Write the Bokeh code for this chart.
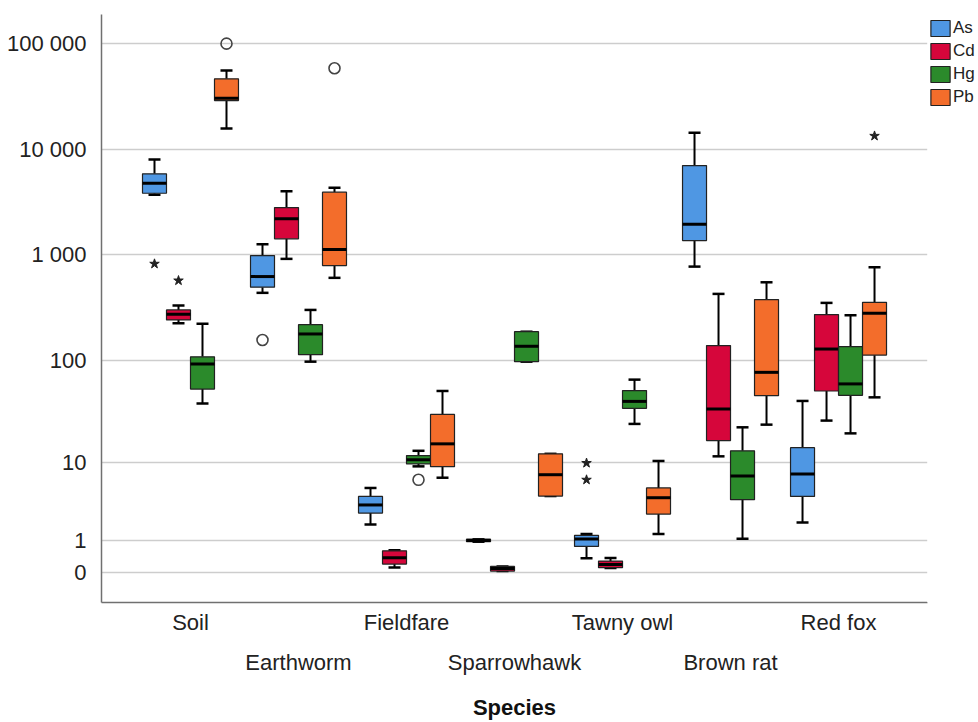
import numpy as np
from bokeh.plotting import figure
from bokeh.models import (Range1d, LinearAxis, FixedTicker, CustomJSTickFormatter,
                          Grid, Legend, LegendItem, ColumnDataSource, BoxAnnotation)
from bokeh.embed import file_html
from bokeh.resources import INLINE

# ---------------- data ----------------
species = ["Soil", "Earthworm", "Fieldfare", "Sparrowhawk", "Tawny owl", "Brown rat", "Red fox"]
metals = ["As", "Cd", "Hg", "Pb"]
colors = ["#4F97E3", "#D6063B", "#2B8A2B", "#F36D2B"]
x_title = "Species"

as_lo = [3690, 437, 1.84, 0.95, 0.36, 774, 1.97]
as_q1 = [3820, 494, 2.64, 0.95, 0.76, 1364, 4.23]
as_med = [4750, 623, 3.34, 1.0, 1.07, 1945, 7.51]
as_q3 = [5830, 984, 4.23, 1.06, 1.24, 6980, 14.1]
as_hi = [7960, 1259, 5.28, 1.06, 1.31, 14220, 40.7]

cd_lo = [225, 916, 0.115, 0.03, 0.10, 11.5, 26.2]
cd_q1 = [242, 1416, 0.20, 0.03, 0.108, 16.6, 50.8]
cd_med = [274, 2190, 0.38, 0.09, 0.19, 34, 128]
cd_q3 = [301, 2800, 0.60, 0.14, 0.28, 138, 272]
cd_hi = [331, 3990, 0.62, 0.14, 0.37, 427, 351]

hg_lo = [38.5, 97, 9.05, 97, 24.3, 1.08, 19.6]
hg_q1 = [53, 113, 9.6, 97, 34.5, 3.87, 46.1]
hg_med = [92, 178, 10.6, 136, 40.3, 7.15, 59.4]
hg_q3 = [108, 218, 11.7, 187, 51.2, 13.1, 135]
hg_hi = [222, 301, 13.1, 187, 65.3, 22.5, 268]

pb_lo = [15600, 606, 6.85, 4.27, 1.31, 23.9, 44.1]
pb_q1 = [28700, 792, 8.98, 4.27, 2.56, 45.8, 112]
pb_med = [30200, 1121, 15.4, 7.38, 4.08, 76.7, 280]
pb_q3 = [46100, 3910, 30.1, 12.2, 5.28, 377, 355]
pb_hi = [55200, 4300, 50.8, 12.2, 10.3, 550, 763]

# outliers (circles) and extremes (stars)
out_species = ["Soil", "Earthworm", "Earthworm", "Fieldfare"]
out_metal = ["Pb", "As", "Pb", "Hg"]
out_value = [99000, 156, 58000, 6.5]

ext_species = ["Soil", "Soil", "Tawny owl", "Tawny owl", "Red fox"]
ext_metal = ["As", "Cd", "As", "As", "Pb"]
ext_value = [822, 571, 9.8, 6.5, 13300]

tick_values = [0, 1, 10, 100, 1000, 10000, 100000]
tick_labels = ["0", "1", "10", "100", "1 000", "10 000", "100 000"]

stats = {
    "As": (as_lo, as_q1, as_med, as_q3, as_hi),
    "Cd": (cd_lo, cd_q1, cd_med, cd_q3, cd_hi),
    "Hg": (hg_lo, hg_q1, hg_med, hg_q3, hg_hi),
    "Pb": (pb_lo, pb_q1, pb_med, pb_q3, pb_hi),
}

def tr(v):
    return np.log10(np.asarray(v, dtype=float) + 1.0)

BW = 0.2222          # box width in category units
X_START, X_END = -0.824, 6.821   # extent of the plotting area proper
FONT = "Liberation Sans"

p = figure(width=978, height=722,
           x_range=Range1d(X_START, 7.296), y_range=Range1d(-0.284, 5.271),
           x_axis_type=None, y_axis_type=None,
           output_backend="svg", toolbar_location=None,
           min_border_left=101, min_border_right=0, min_border_top=14, min_border_bottom=120)
p.outline_line_color = None
p.background_fill_color = "white"
p.border_fill_color = "white"

# y axis
yticker = FixedTicker(ticks=list(tr(tick_values)))
yaxis = LinearAxis(ticker=yticker,
                   formatter=CustomJSTickFormatter(args=dict(labels=tick_labels), code="return labels[index];"))
yaxis.major_tick_line_color = None
yaxis.minor_tick_line_color = None
yaxis.axis_line_color = "#707070"
yaxis.axis_line_width = 1.5
yaxis.major_label_text_font = FONT
yaxis.major_label_text_font_size = "22px"
yaxis.major_label_text_color = "#222222"
yaxis.major_label_standoff = 9
p.add_layout(yaxis, "left")
p.add_layout(Grid(dimension=1, ticker=yticker, grid_line_color="#cdcdcd", grid_line_width=1.5))

# x axes: two staggered rows of category names plus a row for the title
fmt = CustomJSTickFormatter(args=dict(names=species), code="return names[Math.round(tick)];")
xa1 = LinearAxis(ticker=FixedTicker(ticks=[i for i in range(len(species)) if i % 2 == 0]), formatter=fmt)
xa2 = LinearAxis(ticker=FixedTicker(ticks=[i for i in range(len(species)) if i % 2 == 1]), formatter=fmt)
xa3 = LinearAxis(ticker=FixedTicker(ticks=[(len(species) - 1) / 2]),
                 formatter=CustomJSTickFormatter(args=dict(t=x_title), code="return t;"))
for ax in (xa1, xa2, xa3):
    ax.major_tick_line_color = None
    ax.minor_tick_line_color = None
    ax.major_tick_out = 0
    ax.major_tick_in = 0
    ax.major_label_text_font = FONT
    ax.major_label_text_font_size = "22px"
    ax.major_label_text_color = "#222222"
    ax.axis_line_color = None
xa1.axis_line_color = "#707070"
xa1.axis_line_width = 1.5
xa1.bounds = (X_START, X_END)
xa1.major_label_standoff = 7
xa2.major_label_standoff = 12
xa3.major_label_standoff = 17
xa3.major_label_text_font_style = "bold"
xa3.major_label_text_color = "#111111"
p.add_layout(xa1, "below")
p.add_layout(xa2, "below")
p.add_layout(xa3, "below")

legend_items = []
for k, m in enumerate(metals):
    lo, q1, med, q3, hi = stats[m]
    x = np.arange(len(species)) + (k - 1.5) * BW
    src = ColumnDataSource(dict(
        x=x, lo=tr(lo), q1=tr(q1), med=tr(med), q3=tr(q3), hi=tr(hi),
        x0=x - BW / 2, x1=x + BW / 2, c0=x - BW / 4, c1=x + BW / 4))
    p.segment(x0="x", y0="q3", x1="x", y1="hi", source=src, line_color="black", line_width=2)
    p.segment(x0="x", y0="q1", x1="x", y1="lo", source=src, line_color="black", line_width=2)
    p.segment(x0="c0", y0="hi", x1="c1", y1="hi", source=src, line_color="black", line_width=2.5)
    p.segment(x0="c0", y0="lo", x1="c1", y1="lo", source=src, line_color="black", line_width=2.5)
    r = p.vbar(x="x", width=BW, bottom="q1", top="q3", source=src,
               fill_color=colors[k], line_color="#222222", line_width=1.2)
    p.segment(x0="x0", y0="med", x1="x1", y1="med", source=src, line_color="black", line_width=3)
    legend_items.append(LegendItem(label=m, renderers=[r]))

def xpos(sp, mt):
    return [species.index(s) + (metals.index(m) - 1.5) * BW for s, m in zip(sp, mt)]

p.scatter(x=xpos(out_species, out_metal), y=tr(out_value), marker="circle", size=11,
          fill_color="white", fill_alpha=0, line_color="#444444", line_width=1.6)
p.scatter(x=xpos(ext_species, ext_metal), y=tr(ext_value), marker="star", size=10,
          fill_color="#222222", line_color="#222222", line_width=1)

# blank strip right of the plotting area (legend lives there)
p.add_layout(BoxAnnotation(left=X_END, fill_color="white", fill_alpha=1.0, line_color=None))

legend = Legend(items=legend_items, location=(827, 495), padding=0, spacing=2,
                glyph_width=24, glyph_height=20, label_height=21, label_standoff=1,
                label_text_font=FONT, label_text_font_size="17px", label_text_color="#222222",
                border_line_color=None, background_fill_alpha=0, margin=0)
p.add_layout(legend, "center")

open("out.html", "w").write(file_html(p, INLINE))
